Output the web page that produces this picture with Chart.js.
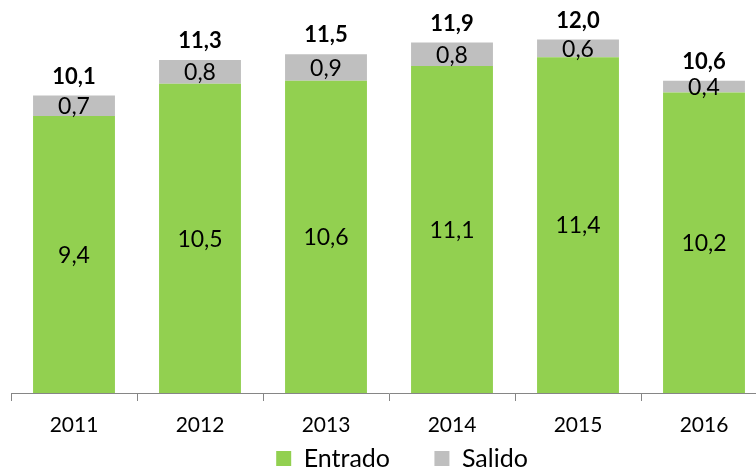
<!DOCTYPE html>
<html>
<head>
<meta charset="utf-8">
<script src="https://cdn.jsdelivr.net/npm/chart.js@4.4.1/dist/chart.umd.min.js"></script>
<style>
  html, body { margin: 0; padding: 0; background: #fff; overflow: hidden; }
  #wrap { width: 780px; height: 483px; }
</style>
</head>
<body>
<div id="wrap"><canvas id="chart" width="780" height="483"></canvas></div>
<script>
// data
const years = ['2011', '2012', '2013', '2014', '2015', '2016'];
const entrado = [9.4, 10.5, 10.6, 11.1, 11.4, 10.2];
const salido = [0.7, 0.8, 0.9, 0.8, 0.6, 0.4];
const totals = [10.1, 11.3, 11.5, 11.9, 12.0, 10.6];

const fontFamily = 'Lato, "Open Sans", sans-serif';

function fmt(v) {
    return v.toFixed(1).replace('.', ',');
}

// Draw values inside segments and totals above bars
const labelPlugin = {
    id: 'labels',
    afterLayout(chart) {
        // nudge the legend to the right, like the original
        chart.legend.left += 26;
    },
    afterDatasetsDraw(chart) {
        const ctx = chart.ctx;
        ctx.save();
        ctx.textAlign = 'center';
        ctx.textBaseline = 'middle';
        ctx.fillStyle = '#000';
        chart.data.datasets.forEach((ds, i) => {
            const meta = chart.getDatasetMeta(i);
            ctx.font = '23px ' + fontFamily;
            meta.data.forEach((bar, j) => {
                const mid = (bar.y + bar.base) / 2;
                ctx.fillText(fmt(ds.data[j]), bar.x, mid + 1);
            });
        });
        const top = chart.getDatasetMeta(1);
        ctx.font = 'bold 22px ' + fontFamily;
        top.data.forEach((bar, j) => {
            ctx.fillText(fmt(totals[j]), bar.x, bar.y - 19);
        });
        ctx.restore();
    }
};

const ctx = document.getElementById('chart').getContext('2d');
const chart = new Chart(ctx, {
    type: 'bar',
    data: {
        labels: years,
        datasets: [{
            label: 'Entrado',
            data: entrado,
            backgroundColor: '#92D050',
            categoryPercentage: 1,
            barPercentage: 0.65
        }, {
            label: 'Salido',
            data: salido,
            backgroundColor: '#BFBFBF',
            categoryPercentage: 1,
            barPercentage: 0.65
        }]
    },
    options: {
        responsive: false,
        animation: false,
        layout: {
            padding: { left: 11, right: 13, top: 0, bottom: 2 }
        },
        plugins: {
            tooltip: { enabled: false },
            legend: {
                position: 'bottom',
                labels: {
                    boxWidth: 15,
                    boxHeight: 15,
                    padding: 6,
                    color: '#000',
                    font: { family: fontFamily, size: 25 },
                    generateLabels(chart) {
                        const items = Chart.defaults.plugins.legend.labels.generateLabels(chart);
                        // widen the gap between the two entries
                        items[0].text = items[0].text + '      ';
                        return items;
                    }
                }
            }
        },
        scales: {
            x: {
                stacked: true,
                afterFit(scale) {
                    scale.height = 47;
                },
                grid: {
                    offset: true,
                    drawOnChartArea: false,
                    tickLength: 8,
                    color: '#868686'
                },
                border: { color: '#868686', width: 1 },
                ticks: {
                    color: '#000',
                    padding: 12,
                    font: { family: fontFamily, size: 21 }
                }
            },
            y: {
                stacked: true,
                display: false,
                min: 0,
                max: 13.34
            }
        }
    },
    plugins: [labelPlugin]
});
</script>
</body>
</html>
